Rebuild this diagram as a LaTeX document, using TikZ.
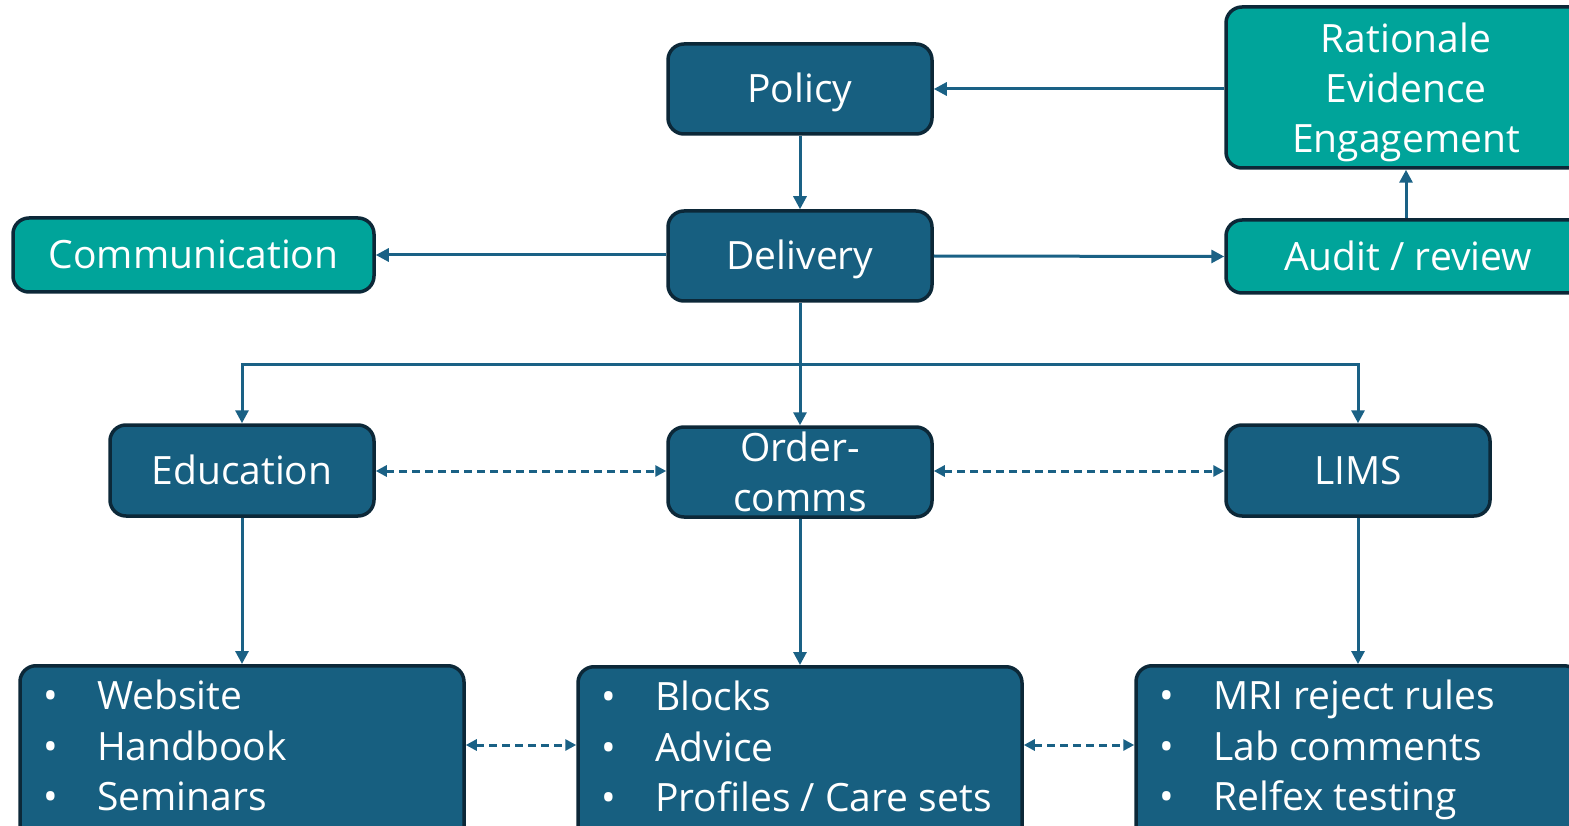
\documentclass[tikz,border=0pt]{standalone}
\usepackage{fontspec}
\setmainfont{Open Sans}
\usetikzlibrary{arrows.meta}
\definecolor{boxblue}{RGB}{23,95,128}
\definecolor{boxteal}{RGB}{0,164,154}
\definecolor{boxedge}{RGB}{12,40,56}
\definecolor{arrowblue}{RGB}{26,97,133}
\tikzset{
  base/.style={draw=boxedge, line width=3.5pt, rounded corners=16pt, text=white, align=center, inner sep=0pt,
    font=\fontsize{39}{50}\selectfont},
  one/.style={text height=28pt, text depth=0pt},
  bluebox/.style={base, fill=boxblue},
  tealbox/.style={base, fill=boxteal},
  plaintext/.style={text=white, align=center, inner sep=0pt, font=\fontsize{39}{50}\selectfont},
  listtext/.style={text=white, anchor=north west, align=left, inner sep=0pt, font=\fontsize{39}{50.5}\selectfont},
  conn/.style={draw=arrowblue, line width=3pt, -{Triangle[length=13pt,width=13pt]}},
  dconn/.style={draw=arrowblue, line width=3pt, dash pattern=on 8pt off 5pt,
    {Triangle[length=11pt,width=11pt]}-{Triangle[length=11pt,width=11pt]}},
}
\newcommand{\bul}{\makebox[57pt][l]{\hspace*{3pt}•}}
\begin{document}
\begin{tikzpicture}[x=1pt,y=-1pt]
\useasboundingbox (0,0) rectangle (1569,826);
\clip (0,0) rectangle (1569,826);
% top row
\node[bluebox, one, minimum width=264pt, minimum height=90pt] (policy) at (800,89) {Policy};
\node[tealbox, minimum width=364pt, minimum height=161pt] (rat) at (1408,87.5) {};
\node[plaintext] (rattext) at (1406,92) {Rationale\\Evidence\\Engagement};
% second row
\node[tealbox, one, minimum width=361pt, minimum height=74pt] (comm) at (193.5,255) {Communication};
\node[bluebox, one, minimum width=264pt, minimum height=90pt] (deliv) at (800,256) {Delivery};
\node[tealbox, one, minimum width=364pt, minimum height=73pt] (audit) at (1408,256.5) {Audit / review};
% third row
\node[bluebox, one, minimum width=264pt, minimum height=91pt] (edu) at (242,470.5) {Education};
\node[bluebox, minimum width=264pt, minimum height=90pt] (order) at (800,472) {Order-\\comms};
\node[bluebox, one, minimum width=264pt, minimum height=91pt] (lims) at (1358,470.5) {LIMS};
% bottom row
\node[bluebox, minimum width=444pt, minimum height=180pt, anchor=north] (bl) at (242,664) {};
\node[bluebox, minimum width=444pt, minimum height=180pt, anchor=north] (bm) at (800,665) {};
\node[bluebox, minimum width=444pt, minimum height=180pt, anchor=north] (br) at (1358,664) {};
\node[listtext] (bltext) at (40,680) {\bul Website\\\bul Handbook\\\bul Seminars};
\node[listtext] (bmtext) at (598,681) {\bul Blocks\\\bul Advice\\\bul Profiles / Care sets};
\node[listtext] (brtext) at (1156,680) {\bul MRI reject rules\\\bul Lab comments\\\bul Relfex testing};
% connectors
\coordinate (split) at (800,364);
\draw[conn] (rat.west |- policy.east) -- (policy.east);
\draw[conn] (policy.south) -- (deliv.north);
\draw[conn] (deliv.west |- comm.east) -- (comm.east);
\draw[conn] (deliv.east) -- (audit.west);
\draw[conn] (audit.north -| 1406,0) -- (rat.south -| 1406,0);
\draw[conn] (deliv.south) -- (order.north);
\draw[conn] (split) -| (edu.north);
\draw[conn] (split) -| (lims.north);
\draw[dconn] (edu.east |- 0,471) -- (order.west |- 0,471);
\draw[dconn] (order.east |- 0,471) -- (lims.west |- 0,471);
\draw[conn] (edu.south) -- (bl.north);
\draw[conn] (order.south) -- (bm.north);
\draw[conn] (lims.south) -- (br.north);
\draw[dconn] (bl.east |- 0,745) -- (bm.west |- 0,745);
\draw[dconn] (bm.east |- 0,745) -- (br.west |- 0,745);
\end{tikzpicture}
\end{document}
